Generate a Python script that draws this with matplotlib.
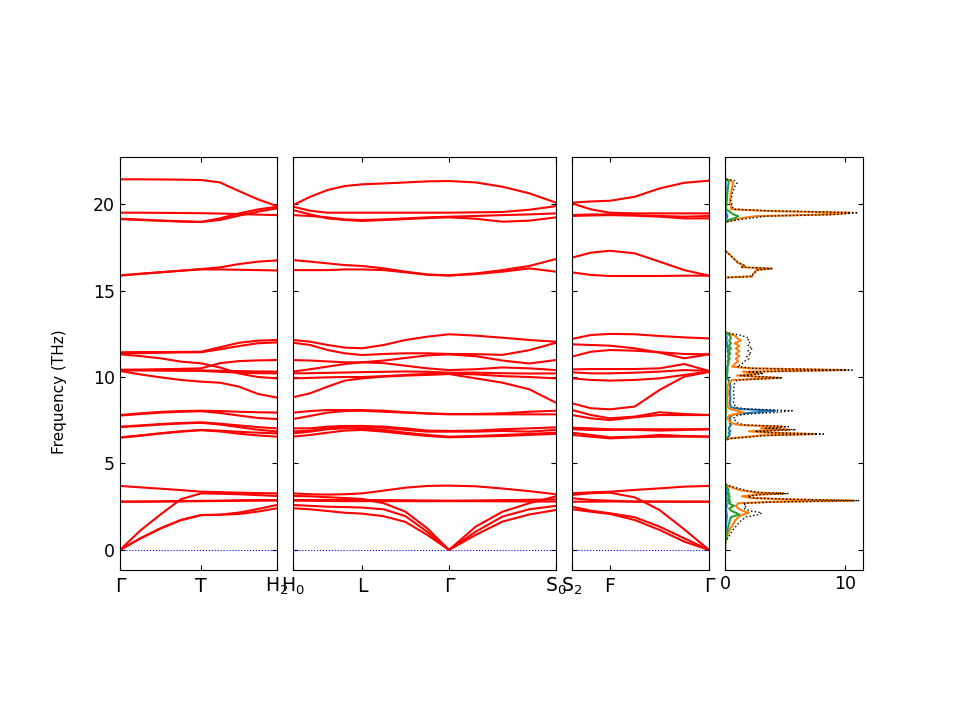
import matplotlib
matplotlib.use("Agg")
import matplotlib.pyplot as plt
import numpy as np

# ---------------- path data ----------------
seg_len_p1 = [0.81, 0.76]          # Γ-T, T-H2
seg_len_p2 = [0.69, 0.87, 1.07]    # H0-L, L-Γ, Γ-S0
seg_len_p3 = [0.38, 0.99]          # S2-F, F-Γ
nq_p1 = [5, 5]
nq_p2 = [5, 5, 5]
nq_p3 = [3, 5]
labels_p1 = ["Γ", "T", "H$_2$"]
labels_p2 = ["H$_0$", "L", "Γ", "S$_0$"]
labels_p3 = ["S$_2$", "F", "Γ"]

# ---------------- band frequencies (THz) ----------------
bands_p1 = [
    [21.43, 21.43, 21.42, 21.41, 21.39, 21.25, 20.75, 20.27, 19.88],
    [19.50, 19.50, 19.49, 19.48, 19.47, 19.45, 19.42, 19.39, 19.36],
    [19.15, 19.10, 19.05, 19.00, 18.97, 19.17, 19.46, 19.69, 19.84],
    [19.13, 19.08, 19.03, 18.99, 18.96, 19.08, 19.33, 19.56, 19.75],
    [15.88, 15.97, 16.06, 16.15, 16.24, 16.34, 16.53, 16.67, 16.74],
    [15.86, 15.96, 16.05, 16.14, 16.22, 16.22, 16.20, 16.18, 16.16],
    [11.43, 11.44, 11.44, 11.45, 11.46, 11.72, 11.98, 12.10, 12.14],
    [11.37, 11.38, 11.40, 11.42, 11.43, 11.60, 11.79, 11.95, 12.00],
    [11.31, 11.21, 11.08, 10.89, 10.79, 10.55, 10.20, 10.00, 9.92],
    [10.42, 10.43, 10.45, 10.47, 10.50, 10.80, 10.92, 10.96, 10.98],
    [10.40, 10.40, 10.40, 10.39, 10.38, 10.36, 10.34, 10.32, 10.31],
    [10.38, 10.38, 10.37, 10.36, 10.35, 10.30, 10.25, 10.22, 10.21],
    [10.35, 10.15, 9.98, 9.83, 9.73, 9.67, 9.44, 9.02, 8.81],
    [7.80, 7.90, 7.98, 8.03, 8.05, 8.03, 7.99, 7.96, 7.94],
    [7.77, 7.86, 7.94, 7.99, 8.02, 7.92, 7.77, 7.63, 7.57],
    [7.13, 7.20, 7.28, 7.34, 7.38, 7.30, 7.20, 7.10, 7.03],
    [7.10, 7.17, 7.25, 7.31, 7.35, 7.25, 7.10, 6.95, 6.85],
    [6.51, 6.62, 6.75, 6.86, 6.94, 6.90, 6.83, 6.78, 6.74],
    [6.49, 6.60, 6.73, 6.84, 6.92, 6.85, 6.72, 6.62, 6.55],
    [3.70, 3.62, 3.54, 3.46, 3.37, 3.34, 3.31, 3.29, 3.27],
    [0.00, 1.12, 2.05, 2.93, 3.27, 3.25, 3.22, 3.17, 3.12],
    [2.79, 2.80, 2.81, 2.82, 2.84, 2.85, 2.87, 2.88, 2.89],
    [2.79, 2.79, 2.80, 2.81, 2.82, 2.83, 2.84, 2.85, 2.85],
    [0.00, 0.67, 1.25, 1.73, 2.02, 2.04, 2.16, 2.37, 2.60],
    [0.00, 0.66, 1.24, 1.72, 2.01, 2.03, 2.08, 2.22, 2.41],
]

bands_p2 = [
    [19.94, 20.42, 20.81, 21.04, 21.14, 21.19, 21.25, 21.31, 21.33, 21.25, 21.00, 20.62, 20.08],
    [19.85, 19.61, 19.50, 19.50, 19.50, 19.50, 19.50, 19.50, 19.50, 19.52, 19.54, 19.67, 19.88],
    [19.65, 19.40, 19.17, 19.08, 19.02, 19.08, 19.13, 19.19, 19.23, 19.15, 18.98, 19.04, 19.23],
    [19.36, 19.31, 19.23, 19.11, 19.08, 19.11, 19.17, 19.23, 19.27, 19.31, 19.36, 19.40, 19.46],
    [16.76, 16.67, 16.57, 16.47, 16.42, 16.28, 16.09, 15.93, 15.88, 15.99, 16.18, 16.42, 16.82],
    [16.18, 16.18, 16.18, 16.22, 16.22, 16.18, 16.05, 15.91, 15.86, 15.95, 16.09, 16.28, 16.09],
    [12.14, 12.04, 11.85, 11.70, 11.66, 11.85, 12.14, 12.33, 12.47, 12.39, 12.27, 12.14, 12.04],
    [11.98, 11.85, 11.56, 11.37, 11.27, 11.33, 11.37, 11.37, 11.33, 11.32, 11.28, 11.55, 11.98],
    [10.98, 10.95, 10.90, 10.85, 10.85, 10.95, 11.10, 11.25, 11.31, 11.20, 10.95, 10.78, 10.98],
    [10.31, 10.45, 10.60, 10.75, 10.85, 10.80, 10.65, 10.50, 10.40, 10.45, 10.55, 10.50, 10.40],
    [10.21, 10.22, 10.24, 10.26, 10.28, 10.30, 10.32, 10.30, 10.25, 10.25, 10.22, 10.20, 10.21],
    [9.92, 9.95, 9.98, 10.00, 10.00, 10.05, 10.12, 10.18, 10.20, 10.15, 10.05, 10.00, 9.92],
    [8.83, 9.06, 9.44, 9.79, 9.92, 10.02, 10.08, 10.12, 10.17, 9.92, 9.67, 9.29, 8.51],
    [7.94, 8.03, 8.09, 8.09, 8.09, 8.05, 7.96, 7.90, 7.86, 7.86, 7.90, 7.99, 8.05],
    [7.57, 7.75, 7.94, 8.03, 8.05, 7.99, 7.94, 7.88, 7.84, 7.84, 7.84, 7.84, 7.84],
    [7.03, 7.03, 7.13, 7.17, 7.17, 7.13, 7.03, 6.90, 6.88, 6.90, 6.98, 7.03, 7.09],
    [6.85, 6.90, 7.03, 7.13, 7.13, 7.07, 6.94, 6.84, 6.84, 6.84, 6.88, 6.84, 6.94],
    [6.74, 6.84, 6.98, 7.03, 7.03, 6.94, 6.78, 6.65, 6.55, 6.59, 6.65, 6.71, 6.78],
    [6.55, 6.65, 6.78, 6.90, 6.94, 6.84, 6.71, 6.59, 6.51, 6.55, 6.59, 6.65, 6.71],
    [3.27, 3.22, 3.20, 3.22, 3.27, 3.43, 3.60, 3.70, 3.72, 3.68, 3.55, 3.40, 3.22],
    [3.12, 3.10, 3.05, 3.00, 2.95, 2.70, 2.21, 1.25, 0.00, 1.35, 2.21, 2.70, 3.10],
    [2.89, 2.89, 2.89, 2.89, 2.89, 2.88, 2.87, 2.86, 2.85, 2.86, 2.88, 2.90, 2.92],
    [2.85, 2.84, 2.83, 2.82, 2.82, 2.82, 2.82, 2.82, 2.82, 2.82, 2.81, 2.80, 2.80],
    [2.60, 2.55, 2.50, 2.48, 2.45, 2.35, 1.95, 1.05, 0.00, 1.06, 1.93, 2.35, 2.55],
    [2.41, 2.35, 2.25, 2.15, 2.10, 1.95, 1.62, 0.87, 0.00, 0.87, 1.64, 2.05, 2.31],
]

bands_p3 = [
    [20.08, 20.15, 20.19, 20.42, 20.90, 21.23, 21.35],
    [20.04, 19.69, 19.50, 19.46, 19.46, 19.46, 19.46],
    [19.36, 19.40, 19.40, 19.36, 19.31, 19.27, 19.31],
    [19.31, 19.34, 19.36, 19.33, 19.27, 19.17, 19.17],
    [16.90, 17.19, 17.30, 17.15, 16.67, 16.18, 15.86],
    [16.05, 15.90, 15.84, 15.84, 15.84, 15.86, 15.86],
    [12.20, 12.43, 12.49, 12.47, 12.37, 12.29, 12.23],
    [11.89, 11.85, 11.81, 11.66, 11.41, 11.08, 11.31],
    [11.18, 11.46, 11.56, 11.52, 11.43, 11.33, 11.31],
    [10.44, 10.46, 10.46, 10.46, 10.50, 10.75, 10.35],
    [10.27, 10.21, 10.21, 10.25, 10.31, 10.40, 10.35],
    [9.92, 9.83, 9.79, 9.83, 9.92, 10.12, 10.31],
    [8.48, 8.19, 8.13, 8.29, 9.25, 10.02, 10.29],
    [8.09, 7.80, 7.61, 7.71, 7.96, 7.86, 7.80],
    [7.80, 7.61, 7.51, 7.67, 7.80, 7.80, 7.80],
    [7.07, 7.03, 6.98, 6.94, 6.90, 6.94, 6.98],
    [6.98, 6.94, 6.94, 6.98, 6.98, 6.98, 6.98],
    [6.78, 6.65, 6.51, 6.55, 6.65, 6.59, 6.55],
    [6.65, 6.55, 6.45, 6.51, 6.55, 6.55, 6.55],
    [3.28, 3.33, 3.37, 3.47, 3.56, 3.66, 3.70],
    [3.18, 3.28, 3.31, 3.04, 2.31, 1.19, 0.00],
    [2.99, 2.89, 2.85, 2.79, 2.79, 2.79, 2.79],
    [2.79, 2.79, 2.80, 2.80, 2.80, 2.79, 2.79],
    [2.50, 2.27, 2.12, 1.89, 1.35, 0.67, 0.00],
    [2.35, 2.21, 2.08, 1.73, 1.16, 0.48, 0.00],
]

# ---------------- partial / total DOS ----------------
dos_freq = [0.0, 0.5, 0.8, 1.1, 1.4, 1.7, 1.9, 2.05, 2.15, 2.25, 2.4, 2.55, 2.7, 2.78,
            2.85, 2.92, 3.0, 3.1, 3.2, 3.26, 3.32, 3.45, 3.6, 3.72, 3.8, 3.9,
            6.35, 6.45, 6.55, 6.62, 6.70, 6.78, 6.86, 6.95, 7.03, 7.13, 7.22, 7.32,
            7.45, 7.6, 7.75, 7.85, 7.95, 8.05, 8.15, 8.25, 8.5, 8.8, 9.1, 9.4, 9.65,
            9.82, 9.95, 10.08, 10.2, 10.3, 10.4, 10.5, 10.6, 10.75, 10.9, 11.05,
            11.2, 11.35, 11.5, 11.65, 11.8, 11.95, 12.1, 12.25, 12.4, 12.5, 12.6,
            15.75, 15.82, 15.92, 16.05, 16.18, 16.27, 16.35, 16.45, 16.6, 16.8,
            17.0, 17.2, 17.3,
            18.95, 19.0, 19.1, 19.2, 19.3, 19.4, 19.5, 19.6, 19.7, 19.9, 20.2,
            20.6, 21.0, 21.2, 21.35, 21.45, 22.0]
dos_blue = [0, 0.01, 0.05, 0.08, 0.10, 0.12, 0.15, 0.15, 0.12, 0.10, 0.10, 0.15, 0.12, 0.10,
            0.15, 0.10, 0.10, 0.12, 0.10, 0.10, 0.08, 0.10, 0.08, 0.05, 0, 0,
            0, 0.10, 0.30, 0.35, 0.40, 0.30, 0.45, 0.35, 0.30, 0.40, 0.50, 0.40,
            0.45, 0.40, 0.50, 0.80, 2.50, 4.20, 1.20, 0.50, 0.40, 0.45, 0.40, 0.45, 0.40,
            0.30, 0.20, 0.15, 0.15, 0.20, 0.20, 0.15, 0.20, 0.25, 0.30, 0.30,
            0.25, 0.30, 0.20, 0.25, 0.15, 0.20, 0.10, 0.15, 0.10, 0, 0,
            0, 0, 0, 0, 0, 0, 0, 0, 0, 0,
            0, 0, 0,
            0, 0.02, 0.10, 0.15, 0.20, 0.15, 0.10, 0.05, 0.05, 0.05, 0.05,
            0.05, 0.05, 0.05, 0.05, 0, 0]
dos_orange = [0, 0.03, 0.20, 0.35, 0.60, 0.85, 1.10, 1.50, 2.00, 1.50, 1.10, 0.90, 1.10, 4.00,
              10.70, 5.50, 2.20, 1.40, 2.60, 4.90, 2.60, 1.30, 0.60, 0.20, 0.03, 0,
              0, 0.40, 2.00, 3.00, 7.50, 3.50, 2.00, 5.30, 3.00, 4.80, 1.20, 0.60,
              0.40, 0.20, 0.30, 0.80, 1.50, 1.00, 0.40, 0.25, 0.20, 0.20, 0.25, 0.20, 0.30,
              0.60, 4.50, 1.00, 2.80, 1.50, 10.10, 2.00, 0.60, 0.80, 1.10, 0.90,
              1.20, 0.90, 1.20, 0.90, 1.20, 0.80, 1.30, 1.00, 0.80, 0.30, 0,
              0, 2.30, 2.30, 2.50, 2.60, 3.90, 1.40, 1.60, 1.10, 0.80,
              0.50, 0.20, 0,
              0, 0.20, 0.80, 1.50, 2.60, 8.80, 10.40, 3.50, 0.50, 0.50, 0.40,
              0.50, 0.60, 0.70, 0.50, 0, 0]
dos_green = [0, 0.03, 0.10, 0.20, 0.30, 0.40, 0.50, 1.20, 0.90, 0.55, 0.35, 0.75, 0.30, 0.45,
             0.25, 0.40, 0.25, 0.40, 0.25, 0.35, 0.20, 0.30, 0.20, 0.10, 0, 0,
             0, 0.05, 0.05, 0.05, 0.05, 0.05, 0.05, 0.05, 0.05, 0.05, 0.05, 0.05,
             0.05, 0.05, 0.05, 0.05, 0.10, 0.10, 0.10, 0.05, 0.05, 0.05, 0.05, 0.05, 0.05,
             0.05, 0.10, 0.10, 0.20, 0.15, 0.20, 0.20, 0.20, 0.30, 0.20, 0.40,
             0.25, 0.45, 0.30, 0.50, 0.30, 0.50, 0.35, 0.50, 0.40, 0.20, 0,
             0, 0, 0, 0, 0, 0, 0, 0, 0, 0,
             0, 0, 0,
             0, 0.10, 0.40, 0.90, 1.10, 0.70, 0.50, 0.30, 0.10, 0.10, 0.15,
             0.20, 0.25, 0.30, 0.30, 0, 0]
dos_total = [0, 0.07, 0.35, 0.60, 0.95, 1.35, 1.75, 2.85, 3.05, 2.15, 1.55, 1.80, 1.50, 4.55,
             11.20, 6.00, 2.55, 1.90, 2.95, 5.30, 2.90, 1.70, 0.90, 0.35, 0.05, 0,
             0, 0.55, 2.40, 3.40, 8.20, 3.90, 2.50, 5.90, 3.40, 5.30, 1.80, 1.10,
             0.90, 0.70, 0.90, 1.70, 4.20, 5.60, 1.80, 0.90, 0.70, 0.75, 0.70, 0.75, 0.80,
             1.00, 4.80, 1.30, 3.20, 1.90, 10.60, 2.40, 1.00, 1.40, 1.60, 2.00,
             1.80, 2.20, 1.90, 2.30, 1.90, 2.10, 1.90, 2.00, 1.40, 0.60, 0,
             0, 2.30, 2.30, 2.50, 2.60, 3.90, 1.40, 1.60, 1.10, 0.80,
             0.50, 0.20, 0,
             0, 0.40, 1.20, 2.40, 3.40, 9.30, 11.10, 4.00, 0.70, 0.60, 0.50,
             0.60, 0.80, 1.00, 0.80, 0, 0]

# ---------------- figure ----------------
W, H = 960, 720
fig = plt.figure(figsize=(9.6, 7.2), dpi=100)
FS_NUM = 12.5    # numeric tick labels
FS_Q = 13.5      # q-point labels
FS_LAB = 11      # axis label

y_lo, y_hi = -1.16, 22.72
yticks = [0, 5, 10, 15, 20]


def px_axes(x0, x1, y0=157, y1=570):
    return fig.add_axes([x0 / W, 1 - y1 / H, (x1 - x0) / W, (y1 - y0) / H])


def style(ax):
    ax.tick_params(direction="in", top=True, right=True, labelsize=FS_NUM)
    ax.set_ylim(y_lo, y_hi)
    ax.set_yticks(yticks)


def draw_panel(ax, seg_len, nq, bands, labels, ylabels=False):
    starts = np.concatenate([[0], np.cumsum(seg_len)])
    qs = []
    for i, (L, n) in enumerate(zip(seg_len, nq)):
        q = np.linspace(starts[i], starts[i] + L, n)
        qs.append(q if i == 0 else q[1:])
    q = np.concatenate(qs)
    for b in bands:
        ax.plot(q, b, color="r", lw=1.5)
    ax.axhline(0, color="b", ls=":", lw=0.8)
    ax.set_xlim(starts[0], starts[-1])
    style(ax)
    ax.set_xticks(starts)
    ax.set_xticklabels(labels, fontsize=FS_Q, va="baseline")
    ax.tick_params(axis="x", pad=15.5)
    if not ylabels:
        ax.set_yticklabels([])


ax1 = px_axes(120, 277)
draw_panel(ax1, seg_len_p1, nq_p1, bands_p1, labels_p1, ylabels=True)
ax1.set_ylabel("Frequency (THz)", fontsize=FS_LAB)
ax1.yaxis.set_label_coords((67 - 120) / 157, (570 - 392) / 413)

ax2 = px_axes(293, 556)
draw_panel(ax2, seg_len_p2, nq_p2, bands_p2, labels_p2)

ax3 = px_axes(572, 709)
draw_panel(ax3, seg_len_p3, nq_p3, bands_p3, labels_p3)

ax4 = px_axes(725, 863)
ax4.plot(dos_blue, dos_freq, color="C0", lw=1.5)
ax4.plot(dos_orange, dos_freq, color="C1", lw=1.5)
ax4.plot(dos_green, dos_freq, color="C2", lw=1.5)
ax4.plot(dos_total, dos_freq, color="k", ls=":", lw=1.0)
ax4.set_xlim(0, 11.5)
ax4.set_xticks([0, 10])
style(ax4)
ax4.set_yticklabels([])

fig.savefig("out.png", dpi=100)
